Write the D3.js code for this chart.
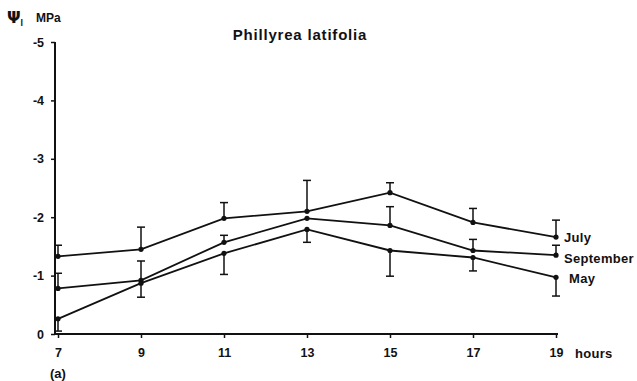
<!DOCTYPE html>
<html>
<head>
<meta charset="utf-8">
<script src="https://cdn.jsdelivr.net/npm/d3@7"></script>
<style>
  html, body { margin: 0; padding: 0; background: #fff; }
  svg { display: block; font-family: "Liberation Sans", Arial, Helvetica, sans-serif; }
  text { fill: #111; font-weight: bold; }
</style>
</head>
<body>
<svg id="chart" width="637" height="381"></svg>
<script>
// Leaf water potential (MPa, plotted as magnitude) through the day
const hours = [7, 9, 11, 13, 15, 17, 19];
const hourTicks = [7, 9, 11, 13, 15, 17, 19];
const psiTicks = [0, 1, 2, 3, 4, 5];

const julyPsi = [1.33, 1.45, 1.98, 2.10, 2.42, 1.91, 1.66];
const julyErr = [0.19, 0.38, 0.27, 0.53, 0.17, 0.24, 0.29];   // drawn upward

const septPsi = [0.78, 0.92, 1.57, 1.98, 1.86, 1.43, 1.35];
const septErr = [0.26, 0.33, 0.12, 0.00, 0.32, 0.19, 0.17];   // drawn upward

const mayPsi = [0.26, 0.87, 1.38, 1.79, 1.43, 1.31, 0.97];
const mayErr = [0.21, 0.24, 0.36, 0.22, 0.44, 0.23, 0.32];    // drawn downward

const seriesNames = ["July", "September", "May"];

const svg = d3.select("#chart");

const x = d3.scaleLinear().domain([7, 19]).range([58, 556]);
const y = d3.scaleLinear().domain([0, 5]).range([334, 42]);
const axisX = 55;

const series = [
  { name: seriesNames[0], v: julyPsi, e: julyErr, dir: 1 },
  { name: seriesNames[1], v: septPsi, e: septErr, dir: 1 },
  { name: seriesNames[2], v: mayPsi, e: mayErr, dir: -1 }
];

// Y axis (values shown with minus sign)
const yAxis = d3.axisLeft(y)
  .tickValues(psiTicks)
  .tickSize(4)
  .tickPadding(7)
  .tickFormat(d => d === 0 ? "0" : "-" + d);
const gy = svg.append("g")
  .attr("transform", `translate(${axisX},0)`)
  .call(yAxis);
gy.select(".domain").remove();
gy.selectAll(".tick line").attr("stroke", "#111").attr("stroke-width", 1.5);
gy.selectAll(".tick text").attr("font-size", 12.5).attr("font-family", "Liberation Sans, Arial, sans-serif");
gy.append("line")
  .attr("x1", 0).attr("x2", 0)
  .attr("y1", y(5)).attr("y2", y(0))
  .attr("stroke", "#111").attr("stroke-width", 2);

// X axis
const xAxis = d3.axisBottom(x)
  .tickValues(hourTicks)
  .tickSize(4)
  .tickPadding(10)
  .tickFormat(d3.format("d"));
const gx = svg.append("g")
  .attr("transform", `translate(0,${y(0)})`)
  .call(xAxis);
gx.select(".domain").remove();
gx.selectAll(".tick line").attr("stroke", "#111").attr("stroke-width", 1.5);
gx.selectAll(".tick text").attr("font-size", 12.5).attr("font-family", "Liberation Sans, Arial, sans-serif");
gx.append("line")
  .attr("x1", axisX).attr("x2", x(19) + 2)
  .attr("y1", 0).attr("y2", 0)
  .attr("stroke", "#111").attr("stroke-width", 2);

svg.append("text")
  .attr("x", x(19) + 19).attr("y", y(0) + 24)
  .attr("font-size", 13)
  .attr("letter-spacing", 0.3)
  .text("hours");

// Error bars
const cap = 4;
series.forEach(s => {
  const g = svg.append("g");
  hours.forEach((h, i) => {
    if (!s.e[i]) return;
    const y0 = y(s.v[i]);
    const y1 = y(s.v[i] + s.dir * s.e[i]);
    g.append("line")
      .attr("x1", x(h)).attr("x2", x(h))
      .attr("y1", y0).attr("y2", y1)
      .attr("stroke", "#111").attr("stroke-width", 1.5);
    g.append("line")
      .attr("x1", x(h) - cap).attr("x2", x(h) + cap)
      .attr("y1", y1).attr("y2", y1)
      .attr("stroke", "#111").attr("stroke-width", 1.5);
  });
});

// Lines and points
const line = d3.line().x(d => x(d[0])).y(d => y(d[1]));
series.forEach(s => {
  const pts = hours.map((h, i) => [h, s.v[i]]);
  svg.append("path")
    .datum(pts)
    .attr("d", line)
    .attr("fill", "none")
    .attr("stroke", "#111")
    .attr("stroke-width", 1.8);
  svg.selectAll(null)
    .data(pts)
    .enter().append("circle")
    .attr("cx", d => x(d[0]))
    .attr("cy", d => y(d[1]))
    .attr("r", 2.6)
    .attr("fill", "#111");
});

// Series labels at the right end
const labelDx = [8, 8, 13];
const labelDy = [5, 8, 6];
series.forEach((s, k) => {
  svg.append("text")
    .attr("x", x(19) + labelDx[k])
    .attr("y", y(s.v[6]) + labelDy[k])
    .attr("font-size", 13)
    .attr("letter-spacing", 0.3)
    .text(s.name);
});

// Title
svg.append("text")
  .attr("x", 300).attr("y", 40)
  .attr("text-anchor", "middle")
  .attr("font-size", 15)
  .attr("letter-spacing", 0.8)
  .text("Phillyrea latifolia");

// Y-axis label: Ψl MPa
const yl = svg.append("text").attr("x", 7).attr("y", 23).attr("font-size", 16);
yl.append("tspan").text("Ψ").attr("font-family", "DejaVu Sans, sans-serif");
yl.append("tspan").text("l").attr("font-size", 9).attr("dy", 3);
yl.append("tspan").text("MPa").attr("x", 36).attr("dy", -4).attr("font-size", 12);

// Panel tag
svg.append("text")
  .attr("x", 50).attr("y", 378)
  .attr("font-size", 13)
  .text("(a)");
</script>
</body>
</html>
